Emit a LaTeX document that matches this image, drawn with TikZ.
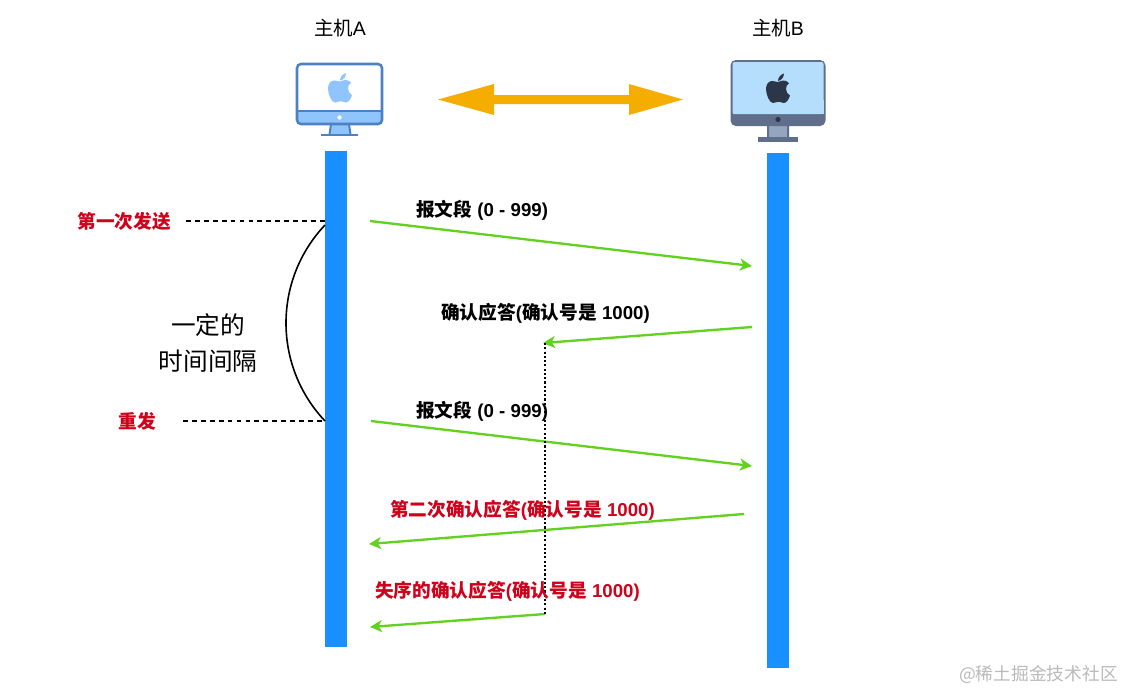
\documentclass[tikz,border=0pt]{standalone}
\usepackage{fontspec}
\setmainfont{Liberation Sans}
\newfontfamily\cjk{Noto Sans CJK SC}
\usetikzlibrary{arrows.meta}
\definecolor{barblue}{HTML}{1890FF}
\definecolor{flowgreen}{HTML}{62D11F}
\definecolor{alertred}{HTML}{D0021B}
\definecolor{amber}{HTML}{F5AE00}
\definecolor{edgeA}{HTML}{4C82C3}
\definecolor{fillA}{HTML}{90C4FC}
\definecolor{screenB}{HTML}{B5DEFD}
\definecolor{chinB}{HTML}{5F6E8A}
\definecolor{standB}{HTML}{93A5BF}
\definecolor{appleB}{HTML}{2B3648}
\tikzset{
  x=0.75pt,y=-0.75pt,
  barbox/.style={fill=barblue,draw=none,inner sep=0pt,minimum width=16.5pt,anchor=north west},
  flow/.style={draw=flowgreen,line width=1.75pt,-{Stealth[length=9pt,width=9pt,inset=2.5pt]}},
  guide/.style={draw=black,line width=0.95pt,dash pattern=on 3.6pt off 3.1pt},
  hosttext/.style={font=\fontsize{14.6pt}{17pt}\selectfont,inner sep=0pt,text=black},
  bigtext/.style={font=\cjk\fontsize{18.5pt}{22pt}\selectfont,inner sep=0pt,text=black},
  msg/.style={font=\bfseries\fontsize{14pt}{17pt}\selectfont,inner sep=0pt,anchor=west,text=black},
  redmsg/.style={msg,text=alertred},
  redtag/.style={font=\cjk\bfseries\fontsize{14pt}{17pt}\selectfont,text=alertred,inner sep=0pt},
}
\newcommand{\cj}[1]{{\cjk #1}}
\newcommand{\applelogo}[3]{%
  \begin{scope}[shift={(#1,#2)}]
    \fill[#3] (12,8.5) .. controls (9,8.5) and (8,7) .. (5.5,7.5)
      .. controls (2,8) and (0,11.5) .. (0,15.5)
      .. controls (0,21) and (3.5,29.5) .. (7,29.5)
      .. controls (9,29.5) and (10,28.2) .. (12.5,28.2)
      .. controls (15,28.2) and (15.5,29.5) .. (18,29.5)
      .. controls (20.5,29.5) and (23,25.5) .. (24,22)
      .. controls (21.5,20.5) and (20,18) .. (20,15.5)
      .. controls (20,13) and (21,11) .. (23,9.8)
      .. controls (21,7) and (18,7) .. (16.5,7)
      .. controls (15,7) and (13.5,8.5) .. (12,8.5) -- cycle;
    \fill[#3] (12,7.5) .. controls (12,4) and (14.5,1) .. (18,0)
      .. controls (18,3.5) and (15.5,7) .. (12,7.5) -- cycle;
  \end{scope}}
\begin{document}
\begin{tikzpicture}
\useasboundingbox (0,0) rectangle (1125,690);
\fill[white] (0,0) rectangle (1125,690);

% host labels
\node[hosttext] (labelA) at (340,28) {\cj{主机}A};
\node[hosttext] (labelB) at (778,28) {\cj{主机}B};

% monitor A
\fill[fillA] (331,124) -- (349,124) -- (351,134.5) -- (329,134.5) -- cycle;
\draw[edgeA,line width=1.5pt] (331,124) -- (329.5,134.5) (349,124) -- (350.5,134.5);
\draw[edgeA,line width=1.8pt] (321,135) -- (358,135);
\begin{scope}
  \clip[rounded corners=3pt] (297,64) rectangle (382,124);
  \fill[white] (297,64) rectangle (382,111);
  \fill[fillA] (297,111) rectangle (382,124);
\end{scope}
\draw[edgeA,line width=1.9pt,rounded corners=3pt] (297,64) rectangle (382,124);
\draw[edgeA,line width=1.9pt] (297,111) -- (382,111);
\fill[white] (339.5,117.5) circle (2.2);
\applelogo{328}{73}{fillA}

% monitor B
\fill[standB] (767,126) rectangle (789,137);
\fill[chinB] (767,126) rectangle (769,137) (787,126) rectangle (789,137);
\fill[chinB] (758,136.5) rectangle (798,141.5);
\fill[chinB,rounded corners=4pt] (730.5,60) rectangle (825.5,126);
\fill[screenB,rounded corners=1.5pt] (732.5,62) rectangle (823.5,114);
\fill[screenB] (732.5,100) rectangle (823.5,114);
\fill[appleB] (778,119.5) circle (2.6);
\applelogo{766}{73.5}{appleB}

% double arrow
\fill[amber] (438,99.5) -- (494,84) -- (494,95) -- (629,95) -- (629,84) -- (683,99.5)
  -- (629,115) -- (629,104) -- (494,104) -- (494,115) -- cycle;

% lifelines
\node[barbox,minimum height=372pt] (barA) at (325,151) {};
\node[barbox,minimum height=386.25pt] (barB) at (767,153) {};

% coordinates
\coordinate (m1s) at (370,221);   \coordinate (m1e) at (752,266);
\coordinate (m2s) at (752,327);   \coordinate (m2e) at (543,343);
\coordinate (m3s) at (371,421);   \coordinate (m3e) at (752,466);
\coordinate (m4s) at (744,514);   \coordinate (m4e) at (369,544);
\coordinate (m5s) at (545,614);   \coordinate (m5e) at (370,627);
\coordinate (d1s) at (545,343);
\coordinate (g1s) at (186,221);   \coordinate (g1e) at (325,221);
\coordinate (g2s) at (183,421);   \coordinate (g2e) at (325,421);
\coordinate (c1) at (325,225);    \coordinate (c2) at (325,421);

% connectors
\draw[flow] (m1s) -- (m1e);
\draw[flow] (m2s) -- (m2e);
\draw[flow] (m3s) -- (m3e);
\draw[flow] (m4s) -- (m4e);
\draw[flow] (m5s) -- (m5e);
\draw[black,line width=1.5pt,dash pattern=on 1.6pt off 1.6pt] (d1s) -- (m5s);
\draw[guide] (g1s) -- (g1e);
\draw[guide] (g2s) -- (g2e);
\draw[black,line width=1.2pt] (c1) .. controls (273,280) and (273,366) .. (c2);

% labels
\node[redtag] (first) at (124,221) {第一次发送};
\node[redtag] (resend) at (137,421) {重发};
\node[bigtext] (span1) at (208,325) {一定的};
\node[bigtext] (span2) at (208,361) {时间间隔};
\node[msg] (t1) at (416,210) {\cj{报文段} (0 - 999)};
\node[msg] (t2) at (441,313) {\cj{确认应答}(\cj{确认号是} 1000)};
\node[msg] (t3) at (416,411) {\cj{报文段} (0 - 999)};
\node[redmsg] (t4) at (390,510) {\cj{第二次确认应答}(\cj{确认号是} 1000)};
\node[redmsg] (t5) at (375,591) {\cj{失序的确认应答}(\cj{确认号是} 1000)};
\node[font=\cjk\fontsize{13.3pt}{16pt}\selectfont,text=black!27,inner sep=0pt,anchor=east] (wm) at (1118,674) {@稀土掘金技术社区};
\end{tikzpicture}
\end{document}
